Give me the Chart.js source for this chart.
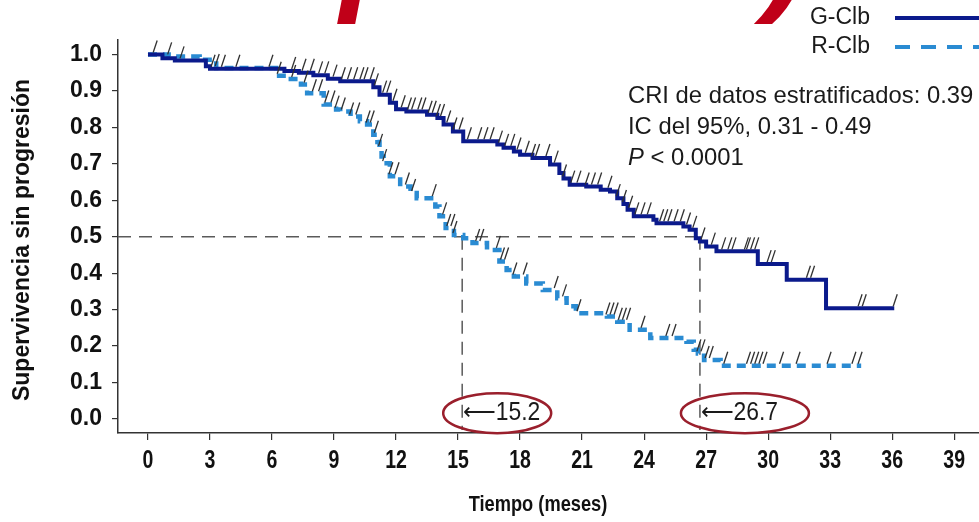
<!DOCTYPE html>
<html>
<head>
<meta charset="utf-8">
<script src="https://cdn.jsdelivr.net/npm/chart.js@4.4.0/dist/chart.umd.min.js"></script>
<style>
html, body { margin: 0; padding: 0; background: #fff; }
</style>
</head>
<body>
<canvas id="km" width="979" height="522"></canvas>
<script>
// |------------|
// |   Datos    |
// |------------|

const xTicks = [0, 3, 6, 9, 12, 15, 18, 21, 24, 27, 30, 33, 36, 39]
const yTicks = [0, 0.1, 0.2, 0.3, 0.4, 0.5, 0.6, 0.7, 0.8, 0.9, 1.0]

// G-Clb : instantes de caída y supervivencia tras la caída
const gTimes = [0, 0.7, 1.3, 2.8, 3.0, 6.6, 7.3, 8.0, 8.7, 9.3, 10.9, 11.2, 11.7, 12.0, 12.5, 13.5, 14.0, 14.3, 14.75, 15.25,
	16.9, 17.2, 17.7, 18.0, 18.6, 19.45, 19.9, 20.1, 20.4, 21.2, 21.9, 22.35, 22.7, 23.0, 23.2, 23.5, 24.45, 24.6,
	25.9, 26.2, 26.5, 26.7, 27.0, 27.5, 29.5, 30.9, 32.8, 36.1]
const gSurv = [1.0, 0.99, 0.984, 0.968, 0.961, 0.955, 0.95, 0.943, 0.934, 0.927, 0.91, 0.89, 0.868, 0.85, 0.844, 0.835, 0.826, 0.808, 0.789, 0.762,
	0.753, 0.744, 0.734, 0.725, 0.716, 0.698, 0.675, 0.66, 0.643, 0.638, 0.629, 0.624, 0.606, 0.59, 0.574, 0.556, 0.547, 0.537,
	0.528, 0.519, 0.496, 0.487, 0.473, 0.46, 0.425, 0.382, 0.304, 0.304]

// R-Clb
const rTimes = [0, 1.0, 2.5, 3.3, 6.2, 6.8, 7.4, 7.7, 8.5, 9.1, 9.3, 9.8, 10.25, 10.6, 10.9, 11.1, 11.2, 11.3, 11.4, 11.7,
	12.2, 12.7, 13.0, 13.9, 14.1, 14.4, 14.8, 15.25, 15.7, 16.4, 17.0, 17.35, 17.7, 18.3, 19.1, 19.8, 20.25, 20.7,
	22.2, 22.7, 23.3, 24.3, 26.05, 26.4, 26.6, 26.9, 27.7, 34.5]
const rSurv = [1.0, 0.995, 0.986, 0.963, 0.942, 0.933, 0.918, 0.894, 0.863, 0.849, 0.844, 0.83, 0.817, 0.808, 0.78, 0.76, 0.744, 0.72, 0.702, 0.666,
	0.638, 0.62, 0.606, 0.583, 0.556, 0.524, 0.505, 0.496, 0.483, 0.464, 0.432, 0.409, 0.391, 0.372, 0.354, 0.331, 0.309, 0.29,
	0.281, 0.267, 0.245, 0.222, 0.212, 0.19, 0.18, 0.162, 0.146, 0.146]

// Censuras
const gCensor = [0.3, 1.6, 3.1, 3.6, 4.3, 5.9, 7.0, 7.5, 7.9, 8.3, 8.6, 9.0, 9.4, 9.7, 10.0, 10.3, 10.5, 10.8, 11.0, 11.4, 11.6,
	11.9, 12.3, 12.6, 12.8, 13.1, 13.3, 13.6, 13.8, 14.0, 14.2, 14.5, 14.8, 15.1, 15.5, 16.0, 16.3, 16.6, 17.0, 17.3,
	17.6, 17.9, 18.3, 18.6, 18.8, 19.3, 19.7, 20.1, 20.5, 20.8, 21.2, 21.5, 21.8, 22.3, 22.7, 23.0, 23.3, 23.6, 23.9,
	24.2, 24.8, 25.0, 25.2, 25.5, 25.8, 26.1, 26.4, 26.8, 27.3, 27.8, 28.1, 28.3, 28.9, 29.0, 29.2, 29.4, 30.0, 30.2,
	31.9, 32.1, 34.4, 34.6, 36.1]
const rCensor = [1.0, 3.3, 6.3, 7.0, 7.6, 8.0, 8.3, 8.6, 8.9, 9.1, 9.4, 9.8, 10.1, 10.6, 10.8, 11.0, 11.2, 11.4, 11.7, 12.0,
	12.5, 12.8, 13.8, 14.3, 14.5, 14.7, 14.8, 15.9, 16.1, 16.9, 17.1, 17.3, 17.7, 18.2, 19.7, 20.1, 20.8, 22.2, 22.4,
	22.6, 22.8, 23.0, 23.2, 23.9, 25.1, 25.4, 26.6, 26.8, 27.0, 27.2, 27.9, 29.0, 29.2, 29.4, 29.6, 29.8, 30.6, 31.4,
	32.9, 34.1, 34.4]

const medians = [15.2, 26.7]
const medianLabels = ['\u27F515.2', '\u27F526.7']
const statLines = ['CRI de datos estratificados: 0.39', 'IC del 95%, 0.31 - 0.49']
const pValue = ' < 0.0001'

const NAVY = '#0b1a8c'
const SKY = '#2a8bd2'
const FONT = '"Liberation Sans", Arial, sans-serif'

// valeur de la courbe en escalier au temps t
function surv_at(times, surv, t) {
	let v = surv[0]
	for (let i = 0; i < times.length; i++) {
		if (times[i] <= t) v = surv[i]
	}
	return v
}

function to_points(times, surv) {
	return times.map((t, i) => ({ x: t, y: surv[i] }))
}

// texte condensé horizontalement (police étroite)
function narrow_text(ctx, text, x, y, sx) {
	ctx.save()
	ctx.translate(x, y)
	ctx.scale(sx, 1)
	ctx.fillText(text, 0, 0)
	ctx.restore()
}

const kmExtras = {
	id: 'kmExtras',
	beforeDatasetsDraw(chart) {
		const { ctx, scales: { x, y } } = chart
		const y5 = y.getPixelForValue(0.5)
		ctx.save()
		ctx.strokeStyle = '#5a5a5a'
		ctx.lineWidth = 1.5
		ctx.setLineDash([13, 8])
		ctx.beginPath()
		ctx.moveTo(x.left, y5)
		ctx.lineTo(x.getPixelForValue(medians[1]), y5)
		ctx.stroke()
		medians.forEach(m => {
			ctx.beginPath()
			ctx.moveTo(x.getPixelForValue(m), y5)
			ctx.lineTo(x.getPixelForValue(m), y.bottom - 3)
			ctx.stroke()
		})
		ctx.restore()
	},
	afterDatasetsDraw(chart) {
		const { ctx, scales: { x, y } } = chart
		ctx.save()
		ctx.strokeStyle = '#303030'
		ctx.lineWidth = 1.3
		const marks = [[gCensor, gTimes, gSurv], [rCensor, rTimes, rSurv]]
		marks.forEach(([cens, times, surv]) => {
			cens.forEach(t => {
				const px = x.getPixelForValue(t)
				const py = y.getPixelForValue(surv_at(times, surv, t))
				ctx.beginPath()
				ctx.moveTo(px - 1, py - 2)
				ctx.lineTo(px + 3, py - 14)
				ctx.stroke()
			})
		})
		ctx.restore()
	},
	afterDraw(chart) {
		const { ctx, scales: { x, y } } = chart
		ctx.save()

		// titre rouge coupé en haut
		ctx.font = 'italic bold 132px ' + FONT
		ctx.fillStyle = '#c00018'
		ctx.textBaseline = 'alphabetic'
		ctx.textAlign = 'left'
		const head = '(Estudio '
		ctx.fillText(head + 'pivotal)', 340 - ctx.measureText(head).width, -3)

		// étiquettes de l'axe x
		ctx.fillStyle = '#111'
		ctx.font = 'bold 25px ' + FONT
		ctx.textAlign = 'center'
		ctx.textBaseline = 'middle'
		xTicks.forEach(v => narrow_text(ctx, String(v), x.getPixelForValue(v), 461, 0.78))
		ctx.font = 'bold 22px ' + FONT
		narrow_text(ctx, 'Tiempo (meses)', 538, 505, 0.83)

		// titre de l'axe y
		ctx.font = 'bold 23px ' + FONT
		ctx.translate(23, 240)
		ctx.rotate(-Math.PI / 2)
		ctx.fillText('Supervivencia sin progresión', 0, 0)
		ctx.setTransform(1, 0, 0, 1, 0, 0)

		// légende
		ctx.font = '23px ' + FONT
		ctx.fillStyle = '#1a1a1a'
		ctx.textAlign = 'right'
		ctx.fillText('G-Clb', 870, 18)
		ctx.fillText('R-Clb', 870, 47)
		ctx.lineWidth = 4
		ctx.strokeStyle = NAVY
		ctx.beginPath(); ctx.moveTo(895, 18); ctx.lineTo(979, 18); ctx.stroke()
		ctx.strokeStyle = SKY
		ctx.setLineDash([15, 11])
		ctx.beginPath(); ctx.moveTo(895, 47); ctx.lineTo(979, 47); ctx.stroke()
		ctx.setLineDash([])

		// statistiques
		ctx.textAlign = 'left'
		ctx.font = '23.8px ' + FONT
		ctx.fillText(statLines[0], 628, 96)
		ctx.fillText(statLines[1], 628, 127)
		ctx.font = 'italic 23.8px ' + FONT
		ctx.fillText('P', 628, 158)
		const pw = ctx.measureText('P').width
		ctx.font = '23.8px ' + FONT
		ctx.fillText(pValue, 628 + pw, 158)

		// ellipses des médianes
		const yc = y.getPixelForValue(0.016)
		const rx = [54, 64]
		const cxOff = [35, 45]
		medians.forEach((m, i) => {
			const px = x.getPixelForValue(m)
			ctx.strokeStyle = '#9a1f2c'
			ctx.lineWidth = 2.5
			ctx.beginPath()
			ctx.ellipse(px + cxOff[i], yc, rx[i], 20, 0, 0, Math.PI * 2)
			ctx.stroke()
			ctx.fillStyle = '#1a1a1a'
			ctx.font = '26px ' + FONT
			ctx.textAlign = 'left'
			narrow_text(ctx, medianLabels[i], px + 1, yc, 0.88)
		})
		ctx.restore()
	}
}

const ctx = document.getElementById('km')
new Chart(ctx, {
	type: 'line',
	data: {
		datasets: [
			{
				label: 'G-Clb',
				data: to_points(gTimes, gSurv),
				borderColor: NAVY,
				borderWidth: 4,
				stepped: true,
				pointRadius: 0,
				fill: false
			},
			{
				label: 'R-Clb',
				data: to_points(rTimes, rSurv),
				borderColor: SKY,
				borderWidth: 4.5,
				borderDash: [9, 6],
				stepped: true,
				pointRadius: 0,
				fill: false
			}
		]
	},
	options: {
		responsive: false,
		animation: false,
		layout: { padding: { top: 40, left: 0, right: 0, bottom: 0 } },
		plugins: {
			legend: { display: false },
			tooltip: { enabled: false }
		},
		scales: {
			x: {
				type: 'linear',
				min: -1.45,
				max: 40.2,
				afterBuildTicks: (scale) => { scale.ticks = xTicks.map(v => ({ value: v })) },
				afterFit: (scale) => { scale.height = 89 },
				border: { display: true, color: '#333', width: 1.5 },
				grid: { drawOnChartArea: false, drawTicks: true, tickLength: 7, color: '#333', lineWidth: 1.2 },
				ticks: { display: false, autoSkip: false }
			},
			y: {
				min: -0.0385,
				max: 1.04,
				afterBuildTicks: (scale) => { scale.ticks = yTicks.map(v => ({ value: v })) },
				afterFit: (scale) => { scale.width = 118 },
				border: { display: true, color: '#333', width: 1.5 },
				grid: { drawOnChartArea: false, drawTicks: true, tickLength: 6, color: '#333', lineWidth: 1.2 },
				ticks: {
					color: '#111',
					padding: 10,
					autoSkip: false,
					font: { family: FONT, size: 23, weight: 'bold' },
					callback: (v) => v.toFixed(1)
				}
			}
		}
	},
	plugins: [kmExtras]
})
</script>
</body>
</html>
